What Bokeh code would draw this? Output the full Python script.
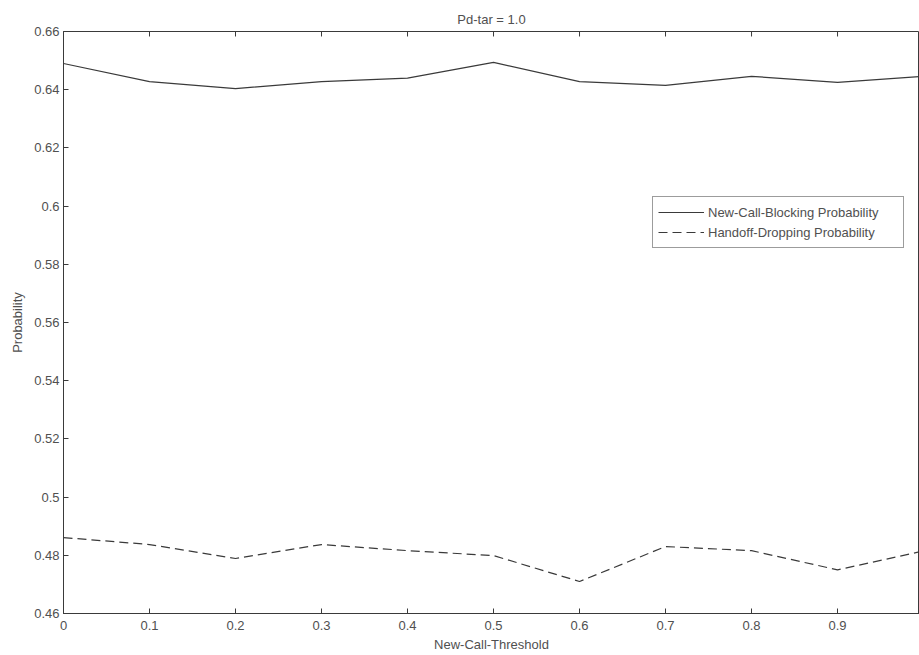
from bokeh.plotting import figure
from bokeh.models import FixedTicker, Range1d, Legend, LegendItem
from bokeh.embed import file_html
from bokeh.resources import INLINE

thresholds = [0.0, 0.1, 0.2, 0.3, 0.4, 0.5, 0.6, 0.7, 0.8, 0.9, 1.0]
new_call_blocking = [0.6490, 0.6428, 0.6404, 0.6428, 0.6440, 0.6494, 0.6428, 0.6415, 0.6446, 0.6425, 0.6446]
handoff_dropping = [0.4861, 0.4837, 0.4789, 0.4837, 0.4816, 0.4799, 0.4710, 0.4830, 0.4816, 0.4750, 0.4815]

x_ticks = [0.0, 0.1, 0.2, 0.3, 0.4, 0.5, 0.6, 0.7, 0.8, 0.9, 1.0]
x_tick_labels = ["0", "0.1", "0.2", "0.3", "0.4", "0.5", "0.6", "0.7", "0.8", "0.9", "1"]
y_ticks = [0.46, 0.48, 0.50, 0.52, 0.54, 0.56, 0.58, 0.60, 0.62, 0.64, 0.66]
y_tick_labels = ["0.46", "0.48", "0.5", "0.52", "0.54", "0.56", "0.58", "0.6", "0.62", "0.64", "0.66"]

FONT = "Liberation Sans"
INK = "#3a3a3a"
TXT = "#505050"
FS = "13px"
Y_MIN, Y_MAX = 0.46, 0.66

p = figure(width=919, height=655, output_backend="svg", toolbar_location=None,
           x_range=Range1d(0, 0.9953), y_range=Range1d(Y_MIN, Y_MAX),
           title="Pd-tar = 1.0", min_border_left=63, min_border_right=0,
           min_border_top=31, min_border_bottom=42)

p.title.align = "center"
p.title.text_font = FONT
p.title.text_font_size = FS
p.title.text_font_style = "normal"
p.title.text_color = TXT
p.title.offset = 0
p.title.standoff = 9

p.xgrid.visible = False
p.ygrid.visible = False
p.outline_line_color = INK
p.outline_line_width = 1

for ax in (p.xaxis[0], p.yaxis[0]):
    ax.major_tick_in = 5
    ax.major_tick_out = 0
    ax.minor_tick_in = 0
    ax.minor_tick_out = 0
    ax.axis_line_color = INK
    ax.major_tick_line_color = INK
    ax.major_label_text_font = FONT
    ax.major_label_text_font_size = FS
    ax.major_label_text_color = TXT
    ax.axis_label_text_font = FONT
    ax.axis_label_text_font_size = FS
    ax.axis_label_text_font_style = "normal"
    ax.axis_label_text_color = TXT

p.xaxis[0].ticker = FixedTicker(ticks=x_ticks)
p.xaxis[0].major_label_overrides = {t: l for t, l in zip(x_ticks, x_tick_labels)}
p.xaxis[0].axis_label = "New-Call-Threshold"
p.xaxis[0].axis_label_standoff = 4
p.xaxis[0].major_label_standoff = 7

p.yaxis[0].ticker = FixedTicker(ticks=y_ticks)
p.yaxis[0].major_label_overrides = {t: l for t, l in zip(y_ticks, y_tick_labels)}
p.yaxis[0].axis_label = "Probability"
p.yaxis[0].axis_label_standoff = 6
p.yaxis[0].major_label_standoff = 4

# inward tick marks along the top edge of the box (MATLAB style)
tick_len = (Y_MAX - Y_MIN) * 5 / 583
p.segment(x0=x_ticks, x1=x_ticks, y0=[Y_MAX] * len(x_ticks),
          y1=[Y_MAX - tick_len] * len(x_ticks), line_color=INK, line_width=1)

r1 = p.line(thresholds, new_call_blocking, line_color=INK, line_width=1.2)
r2 = p.line(thresholds, handoff_dropping, line_color=INK, line_width=1.2, line_dash="9 5")

legend = Legend(items=[LegendItem(label="New-Call-Blocking Probability", renderers=[r1]),
                       LegendItem(label="Handoff-Dropping Probability", renderers=[r2])],
                location=(589, 365))
legend.label_text_font = FONT
legend.label_text_font_size = FS
legend.label_text_color = TXT
legend.border_line_color = INK
legend.border_line_width = 1
legend.glyph_width = 46
legend.glyph_height = 20
legend.label_height = 20
legend.label_width = 190
legend.spacing = 0
legend.padding = 5
legend.margin = 0
legend.label_standoff = 4
p.add_layout(legend, "center")

open("out.html", "w").write(file_html(p, INLINE))
